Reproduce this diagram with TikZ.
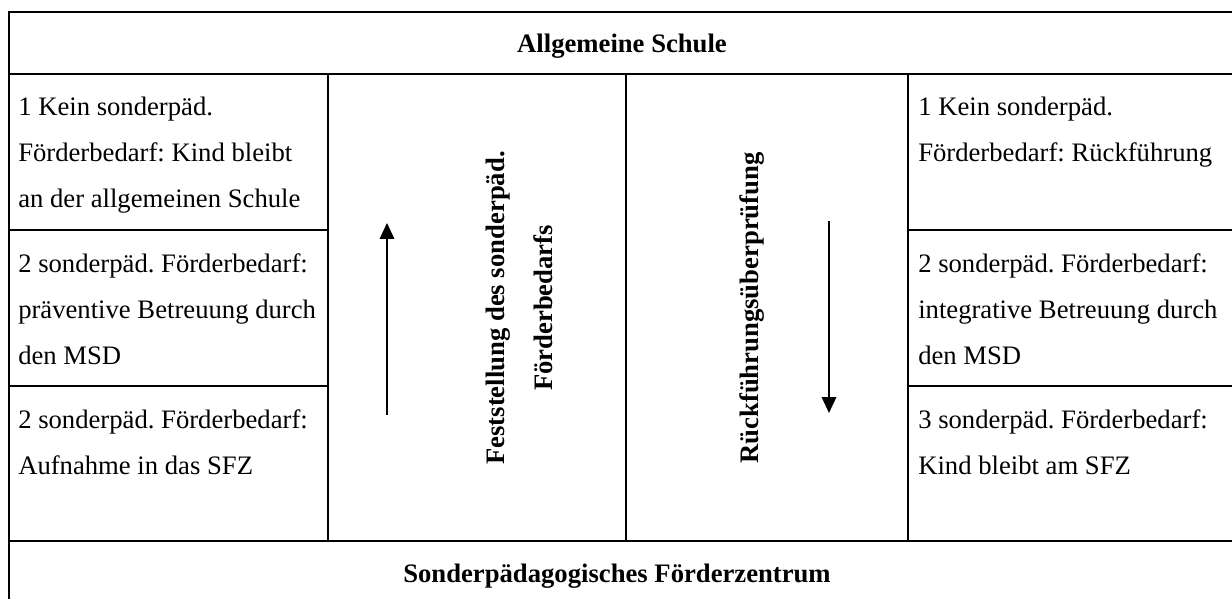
\documentclass[tikz,border=0pt]{standalone}
\usepackage{fontspec}
\setmainfont{Liberation Serif}
\usetikzlibrary{arrows.meta}
\frenchspacing
\begin{document}
\begin{tikzpicture}[x=0.75pt,y=-0.75pt,
  grid/.style={line width=1.5pt,line cap=rect},
  celltext/.style={anchor=base west,inner sep=0pt,align=left,
    font=\fontsize{20}{34.5}\selectfont},
  headtext/.style={anchor=base,inner sep=0pt,
    font=\fontsize{20}{24}\selectfont\bfseries},
  sidetext/.style={inner sep=0pt,align=center,rotate=90,
    font=\fontsize{20}{36}\selectfont\bfseries},
  flow/.style={line width=0.9pt,-{Triangle[length=12pt,width=11pt]}}]
\useasboundingbox (0,0) rectangle (1232,599);

% table frame
\draw[grid] (9,610) -- (9,12) -- (1240,12);
\draw[grid] (9,74) -- (1240,74);
\draw[grid] (9,541) -- (1240,541);
\draw[grid] (328,74) -- (328,541);
\draw[grid] (626,74) -- (626,541);
\draw[grid] (908,74) -- (908,541);
\draw[grid] (9,230) -- (328,230);
\draw[grid] (9,386) -- (328,386);
\draw[grid] (908,230) -- (1240,230);
\draw[grid] (908,386) -- (1240,386);

% headings
\node[headtext] (top) at (622,53) {Allgemeine Schule};
\node[headtext] (bottom) at (617,582) {Sonderpädagogisches Förderzentrum};

% left column (anchored at the baseline of the last line)
\node[celltext] (l1) at (18,208) {1 Kein sonderpäd.\\Förderbedarf: Kind bleibt\\an der allgemeinen Schule};
\node[celltext] (l2) at (18,364) {2 sonderpäd. Förderbedarf:\\präventive Betreuung durch\\den MSD};
\node[celltext] (l3) at (18,474) {2 sonderpäd. Förderbedarf:\\Aufnahme in das SFZ};

% right column
\node[celltext] (r1) at (918,162) {1 Kein sonderpäd.\\Förderbedarf: Rückführung};
\node[celltext] (r2) at (918,364) {2 sonderpäd. Förderbedarf:\\integrative Betreuung durch\\den MSD};
\node[celltext] (r3) at (918,474) {3 sonderpäd. Förderbedarf:\\Kind bleibt am SFZ};

% middle columns
\node[sidetext] (fest) at (519,308) {Feststellung des sonderpäd.\\Förderbedarfs};
\node[sidetext] (rueck) at (752,308) {Rückführungsüberprüfung};

\coordinate (upA) at (387,415);
\coordinate (upB) at (387,223);
\coordinate (dnA) at (829,221);
\coordinate (dnB) at (829,413);
\draw[flow] (upA) -- (upB);
\draw[flow] (dnA) -- (dnB);
\end{tikzpicture}
\end{document}
